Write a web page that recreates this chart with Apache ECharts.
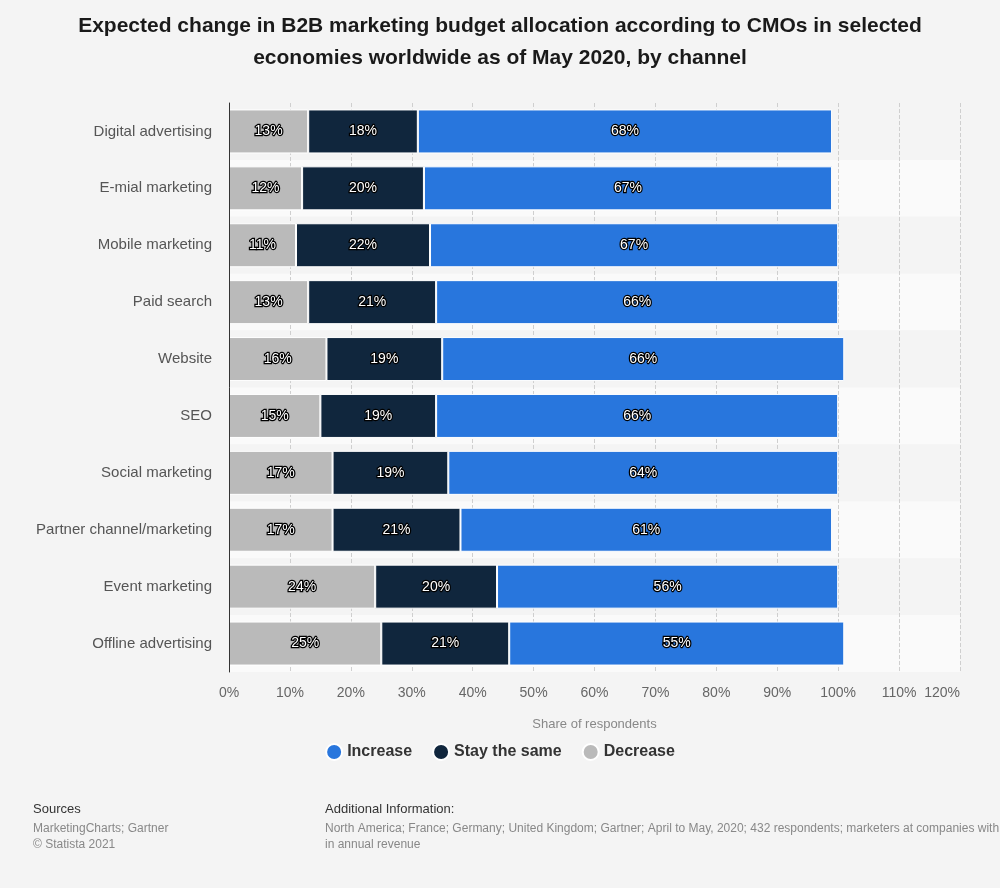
<!DOCTYPE html>
<html>
<head>
<meta charset="utf-8">
<script src="https://cdn.jsdelivr.net/npm/echarts@6/dist/echarts.min.js"></script>
<style>html,body{margin:0;padding:0;background:#f4f4f4;}#c{width:1000px;height:888px;}</style>
</head>
<body>
<div id="c"></div>
<script>
const categories = ['Digital advertising','E-mial marketing','Mobile marketing','Paid search','Website','SEO','Social marketing','Partner channel/marketing','Event marketing','Offline advertising'];
const decrease = [13,12,11,13,16,15,17,17,24,25];
const stayTheSame = [18,20,22,21,19,19,19,21,20,21];
const increase = [68,67,67,66,66,66,64,61,56,55];
const xTicks = {min:0, max:120, interval:10};

const FONT = '"Liberation Sans", Arial, sans-serif';
const chart = echarts.init(document.getElementById('c'), null, {renderer:'canvas'});
const labelCfg = {show:true, position:'inside', formatter:'{c}%', color:'#fff', fontSize:14, fontFamily:FONT, textBorderColor:'#000', textBorderWidth:2.5};
function mk(name, data, color){
  return {name, type:'bar', stack:'t', data, barWidth:44,
    itemStyle:{color, borderColor:'#fff', borderWidth:1},
    label:labelCfg, emphasis:{disabled:true}};
}
chart.setOption({
  backgroundColor:'#f4f4f4',
  animation:false,
  title:{text:'Expected change in B2B marketing budget allocation according to CMOs in selected\neconomies worldwide as of May 2020, by channel',
    left:'center', top:5, textStyle:{fontSize:21, fontWeight:'bold', fontFamily:FONT, color:'#1a1a1a', lineHeight:32}},
  legend:{data:['Increase','Stay the same','Decrease'], left:'center', top:738, icon:'circle', itemWidth:16, itemHeight:16, itemGap:20,
    textStyle:{fontSize:16, fontWeight:'bold', color:'#333', fontFamily:FONT}},
  grid:{left:229, right:40, top:103, bottom:216, containLabel:false},
  xAxis:{type:'value', min:xTicks.min, max:xTicks.max, interval:xTicks.interval,
    name:'Share of respondents', nameLocation:'middle', nameGap:46, nameTextStyle:{fontSize:13, color:'#888', fontFamily:FONT},
    axisLabel:{formatter:'{value}%', fontSize:14, color:'#666', margin:14, fontFamily:FONT, alignMaxLabel:'right'},
    axisLine:{show:false}, axisTick:{show:false},
    splitLine:{show:true, lineStyle:{type:'dashed', color:'#cfcfcf', width:1}}},
  yAxis:[
    {type:'category', data:categories, inverse:true,
      axisLine:{show:false}, axisTick:{show:false},
      axisLabel:{fontSize:15, color:'#555', margin:17, fontFamily:FONT},
      splitArea:{show:true, areaStyle:{color:['#f4f4f4','#fafafa']}}},
    {type:'category', data:categories, inverse:true, position:'left', offset:0, z:10,
      axisLine:{show:true, lineStyle:{color:'#333', width:1}}, axisTick:{show:false},
      axisLabel:{show:false}, splitLine:{show:false}, splitArea:{show:false}}
  ],
  series:[mk('Decrease', decrease, '#bababa'), mk('Stay the same', stayTheSame, '#10263d'), mk('Increase', increase, '#2876dd')],
  graphic:[
    {type:'text', left:33, top:803, style:{text:'Sources', fontSize:13, fill:'#333', fontFamily:FONT}},
    {type:'text', left:33, top:821, style:{text:'MarketingCharts; Gartner\n© Statista 2021', fontSize:12, lineHeight:16, fill:'#888', fontFamily:FONT}},
    {type:'text', left:325, top:803, style:{text:'Additional Information:', fontSize:13, fill:'#333', fontFamily:FONT}},
    {type:'text', left:325, top:821, style:{text:'North America; France; Germany; United Kingdom; Gartner; April to May, 2020; 432 respondents; marketers at companies with $100 million or more\nin annual revenue', fontSize:12, lineHeight:16, fill:'#888', fontFamily:FONT}}
  ]
});
</script>
</body>
</html>
